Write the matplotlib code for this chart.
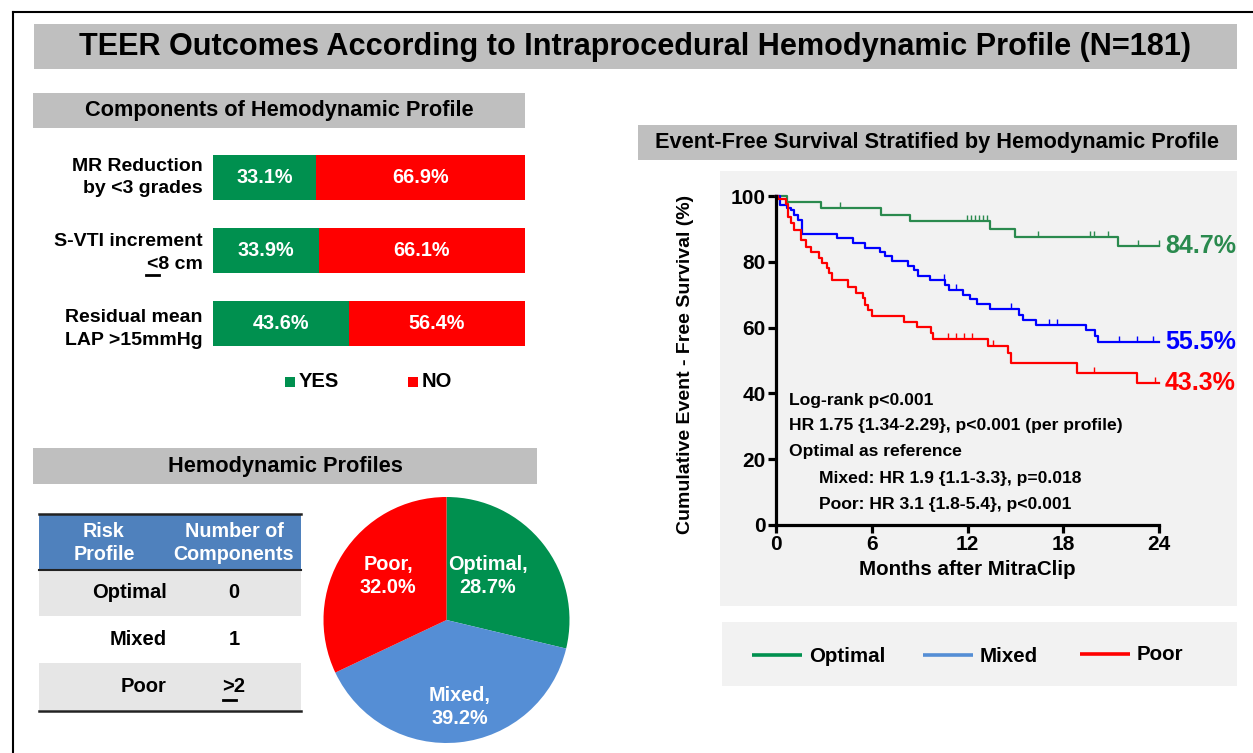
import numpy as np
import matplotlib
matplotlib.use("Agg")
import matplotlib.pyplot as plt
from matplotlib.patches import Rectangle

plt.rcParams['font.family'] = ['Liberation Sans', 'DejaVu Sans']
plt.rcParams['font.weight'] = 'bold'

# ---------------- data ----------------
comp_labels = ["MR Reduction\nby <3 grades", "S-VTI increment\n<8 cm", "Residual mean\nLAP >15mmHg"]
comp_yes = [33.1, 33.9, 43.6]
comp_no = [66.9, 66.1, 56.4]

table_header = ["Risk\nProfile", "Number of\nComponents"]
table_profiles = ["Optimal", "Mixed", "Poor"]
table_counts = ["0", "1", ">2"]

pie_labels = ["Optimal", "Mixed", "Poor"]
pie_values = [28.7, 39.2, 32.0]

opt_t = [0, 0.7, 2.8, 6.6, 8.4, 13.4, 15.0, 21.4]
opt_s = [100, 98.3, 96.4, 94.3, 92.3, 90.0, 87.6, 84.7]
opt_cens = [4.0, 11.95, 12.2, 12.45, 12.7, 12.95, 13.2, 16.4, 19.7, 19.9, 20.8, 22.7, 24.0]

mix_t = [0, 0.25, 0.7, 0.95, 1.15, 1.4, 1.6, 3.8, 4.8, 5.6, 6.5, 6.85, 7.25, 8.25, 8.65,
         8.9, 9.65, 10.6, 10.85, 11.7, 12.15, 12.6, 13.4, 15.25, 15.5, 16.3, 19.4, 20.0, 20.15]
mix_s = [100, 97.3, 96.5, 95.7, 94.2, 92.7, 88.6, 87.1, 85.8, 84.3, 83.1, 81.8, 80.2, 78.7, 77.5,
         75.8, 74.4, 72.9, 71.5, 70.0, 68.6, 67.1, 65.7, 63.8, 62.3, 60.7, 59.3, 57.5, 55.5]
mix_cens = [10.5, 11.3, 14.7, 17.1, 17.6, 21.5, 22.6, 23.6]

poor_t = [0, 0.1, 0.6, 0.75, 0.95, 1.15, 1.55, 1.9, 2.2, 2.7, 2.9, 3.2, 3.35, 3.5, 4.5, 5.0,
          5.45, 5.6, 5.75, 6.0, 8.0, 8.85, 9.7, 9.85, 13.3, 14.55, 14.7, 18.85, 22.6]
poor_s = [100, 99.0, 97.5, 93.7, 91.7, 89.7, 86.6, 84.6, 82.9, 81.1, 79.5, 78.0, 76.5, 74.5, 72.4,
          70.6, 68.9, 66.9, 65.3, 63.6, 61.8, 60.1, 58.3, 56.6, 54.5, 52.2, 49.3, 46.3, 43.3]
poor_cens = [10.8, 11.3, 11.8, 12.3, 13.6, 19.9, 23.75]

km_final = ["84.7%", "55.5%", "43.3%"]
km_stats = ["Log-rank p<0.001", "HR 1.75 {1.34-2.29}, p<0.001 (per profile)", "Optimal as reference",
            "Mixed: HR 1.9 {1.1-3.3}, p=0.018", "Poor: HR 3.1 {1.8-5.4}, p<0.001"]

# ---------------- style ----------------
W, H = 1253, 753
GREEN = "#00904f"
RED = "#ff0000"
BLUE_PIE = "#558ed5"
KM_GREEN = "#2a8a4e"
KM_BLUE = "#0000ff"
KM_RED = "#ff0000"
HEADER_GREY = "#bfbfbf"
PANEL_GREY = "#f2f2f2"

fig = plt.figure(figsize=(W / 100, H / 100), dpi=100)


def rect(x0, y0, x1, y1):
    return [x0 / W, 1 - y1 / H, (x1 - x0) / W, (y1 - y0) / H]


ov = fig.add_axes([0, 0, 1, 1])
ov.set_xlim(0, W)
ov.set_ylim(H, 0)
ov.axis('off')

# frame lines
ov.plot([13, 13], [12, H], color='black', lw=1.5)
ov.plot([13, W], [12, 12], color='black', lw=1.5)

# title box
ov.add_patch(Rectangle((34, 24), 1203, 45, color=HEADER_GREY, lw=0))
ov.text(635, 47, "TEER Outcomes According to Intraprocedural Hemodynamic Profile (N=181)",
        ha='center', va='center', fontsize=22.1, fontweight='bold')

# sub headers
ov.add_patch(Rectangle((33, 93), 492, 35, color=HEADER_GREY, lw=0))
ov.text(279, 110.5, "Components of Hemodynamic Profile", ha='center', va='center', fontsize=15.7)
ov.add_patch(Rectangle((33, 448), 504, 36, color=HEADER_GREY, lw=0))
ov.text(285, 466, "Hemodynamic Profiles", ha='center', va='center', fontsize=15.7)
ov.add_patch(Rectangle((638, 125), 599, 35, color=HEADER_GREY, lw=0))
ov.text(937, 142.5, "Event-Free Survival Stratified by Hemodynamic Profile", ha='center', va='center',
        fontsize=15.7)

# KM panel background and legend box
ov.add_patch(Rectangle((720, 171), 517, 435, color=PANEL_GREY, lw=0))
ov.add_patch(Rectangle((722, 622), 515, 64, color=PANEL_GREY, lw=0))

# ---------------- components bar chart ----------------
axb = fig.add_axes(rect(213, 141, 525, 360))
ypos = np.arange(len(comp_labels))
axb.barh(ypos, comp_yes, height=0.62, color=GREEN, lw=0)
axb.barh(ypos, comp_no, left=comp_yes, height=0.62, color=RED, lw=0)
axb.set_xlim(0, 100)
axb.set_ylim(2.5, -0.5)
axb.axis('off')
label_offsets = [0.0, 0.035, 0.075]
for i in range(len(comp_labels)):
    axb.text(comp_yes[i] / 2, i, f"{comp_yes[i]:.1f}%", ha='center', va='center', color='white', fontsize=14.3)
    axb.text(comp_yes[i] + comp_no[i] / 2, i, f"{comp_no[i]:.1f}%", ha='center', va='center',
             color='white', fontsize=14.3)
    axb.text(-3.3, i + label_offsets[i], comp_labels[i], ha='right', va='center', fontsize=14,
             multialignment='right', linespacing=1.4)
# underline for "<" (less-or-equal)
ov.plot([146, 159], [274.5, 274.5], color='black', lw=2)

# YES / NO legend
ov.add_patch(Rectangle((285, 376.5), 10, 10, color=GREEN, lw=0))
ov.text(299, 381.5, "YES", ha='left', va='center', fontsize=14.5)
ov.add_patch(Rectangle((408, 376.5), 10, 10, color=RED, lw=0))
ov.text(422, 381.5, "NO", ha='left', va='center', fontsize=14.5)

# ---------------- table ----------------
tx0, tx1 = 39, 301
row_edges = [514, 570, 616, 663, 710]
ov.add_patch(Rectangle((tx0, row_edges[0]), tx1 - tx0, row_edges[1] - row_edges[0], color="#4f81bd", lw=0))
row_fill = ["#e6e6e6", "white", "#e6e6e6"]
for i in range(3):
    ov.add_patch(Rectangle((tx0, row_edges[i + 1]), tx1 - tx0, row_edges[i + 2] - row_edges[i + 1],
                           color=row_fill[i], lw=0))
ov.plot([tx0, tx1], [514, 514], color='#222222', lw=1.8)
ov.plot([tx0, tx1], [569.5, 569.5], color='#222222', lw=1.5)
ov.plot([tx0, tx1], [710.5, 710.5], color='#222222', lw=1.8)
ov.text(104, 543, table_header[0], ha='center', va='center', color='white', fontsize=14.2, linespacing=1.25)
ov.text(234, 543, table_header[1], ha='center', va='center', color='white', fontsize=14.2, linespacing=1.25)
for i in range(3):
    yc = (row_edges[i + 1] + row_edges[i + 2]) / 2
    ov.text(167, yc, table_profiles[i], ha='right', va='center', fontsize=14.5)
    ov.text(234, yc, table_counts[i], ha='center', va='center', fontsize=14.5)
ov.plot([223, 236], [699.5, 699.5], color='black', lw=2)

# ---------------- pie ----------------
r = 123
cx, cy = 446.5, 620
axp = fig.add_axes(rect(cx - r, cy - r, cx + r, cy + r))
axp.pie(pie_values, colors=[GREEN, BLUE_PIE, RED], startangle=90, counterclock=False, radius=1,
        wedgeprops=dict(lw=0))
axp.set_xlim(-1, 1)
axp.set_ylim(-1, 1)
axp.set_aspect('auto')
pie_text_pos = [(488, 576), (460, 707), (388, 576)]
for (px, py), lab, v in zip(pie_text_pos, pie_labels, pie_values):
    fig.text(px, py, f"{lab},\n{v:.1f}%", ha='center', va='center', color='white', fontsize=14.3,
             linespacing=1.25, transform=ov.transData)

# ---------------- Kaplan-Meier ----------------
axk = fig.add_axes(rect(776, 196, 1159, 525))
axk.patch.set_alpha(0)


def km(ax, t, s, cens, color):
    t = np.asarray(t, float)
    s = np.asarray(s, float)
    ax.step(np.append(t, 24), np.append(s, s[-1]), where='post', color=color, lw=1.6, clip_on=False)
    c = np.asarray(cens, float)
    cs = s[np.searchsorted(t, c, side='right') - 1]
    ax.plot(c, cs, ls='none', marker=2, markersize=4.5, mew=1.0, color=color, clip_on=False)


km(axk, opt_t, opt_s, opt_cens, KM_GREEN)
km(axk, mix_t, mix_s, mix_cens, KM_BLUE)
km(axk, poor_t, poor_s, poor_cens, KM_RED)
axk.set_xlim(0, 24)
axk.set_ylim(0, 100)
axk.set_xticks([0, 6, 12, 18, 24])
axk.set_yticks([0, 20, 40, 60, 80, 100])
for sp in ['top', 'right']:
    axk.spines[sp].set_visible(False)
for sp in ['left', 'bottom']:
    axk.spines[sp].set_linewidth(2.3)
axk.tick_params(width=2.3, length=5.5, labelsize=15, pad=2)
for lab in axk.get_xticklabels() + axk.get_yticklabels():
    lab.set_fontweight('bold')
axk.set_xlabel("Months after MitraClip", fontsize=14.8, fontweight='bold', labelpad=4)
ov.text(685, 364, "Cumulative Event - Free Survival (%)", rotation=90, ha='center', va='center',
        fontsize=14)

final_y = [246, 342, 383]
for txt, y, col in zip(km_final, final_y, [KM_GREEN, KM_BLUE, KM_RED]):
    ov.text(1165, y, txt, ha='left', va='center', color=col, fontsize=18)

stat_pos = [(789, 400), (789, 425), (789, 451), (819, 478), (819, 504)]
for (sx, sy), txt in zip(stat_pos, km_stats):
    ov.text(sx, sy, txt, ha='left', va='center', fontsize=12.6)

# KM legend
leg_items = [("Optimal", GREEN, 752, 655), ("Mixed", BLUE_PIE, 923, 655), ("Poor", RED, 1080, 654)]
for lab, col, lx, ly in leg_items:
    ov.plot([lx, lx + 50], [ly, ly], color=col, lw=2.6, solid_capstyle='butt')
    ov.text(lx + 57, ly + 1, lab, ha='left', va='center', fontsize=14.8)

fig.savefig("out.png", dpi=100)
